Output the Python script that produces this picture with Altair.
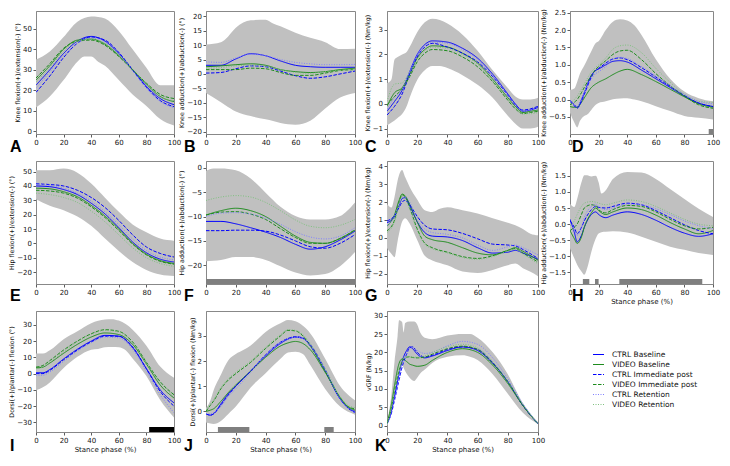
import altair as alt
import pandas as pd

SERIES = ["CTRL Baseline", "VIDEO Baseline", "CTRL Immediate post",
          "VIDEO Immediate post", "CTRL Retention", "VIDEO Retention"]
COLORS = ["#0000ff", "#1e8c1e", "#0000ff", "#1e8c1e", "#8080ff", "#80c080"]
DASHES = [[1, 0], [1, 0], [3.5, 1.5], [3.5, 1.5], [1, 1.5], [1, 1.5]]
X_TICKS = [0, 20, 40, 60, 80, 100]

# ---------------- A: knee flexion angle
A_bx = [0, 10, 20, 30, 35, 40, 45, 50, 60, 70, 80, 90, 100]
A_hi = [35, 39, 46, 53.5, 55.3, 56, 55.8, 55, 49, 40, 31, 22.5, 22.5]
A_lo = [11.6, 17, 25, 34, 36.5, 36.5, 34, 32, 25, 18, 12.4, 6, 2.8]
A_cx = [0, 10, 20, 30, 40, 50, 60, 70, 80, 90, 100]
A_cb = [22.5, 30, 38, 44, 46.3, 44, 38, 30, 22, 16, 13]
A_vb = [25, 32, 40, 44.5, 45, 42.5, 37, 30, 23, 17, 14.5]
A_ci = [19, 27, 36, 43, 46, 44.5, 38.5, 30, 21.5, 15, 12]
A_vi = [26, 33, 40.5, 44, 44.5, 42, 36.5, 30, 23.5, 18, 16]
A_cr = [21, 29, 37, 43, 45.5, 43.5, 37.5, 29.5, 21, 14.5, 11.5]
A_vr = [24, 31, 39, 44, 45, 43, 37.5, 30.5, 23, 17, 15]

# ---------------- B: knee adduction angle
B_bx = [0, 10, 13, 20, 30, 40, 45, 50, 60, 70, 80, 90, 100]
B_hi = [10.2, 11, 12, 16, 18.6, 18.8, 17.5, 16.5, 14.3, 12.5, 11, 8.6, 8.7]
B_lo = [-6.6, -9.8, -10.8, -13, -14.6, -15.7, -16.3, -17, -17.6, -16.2, -12, -8.2, -6.6]
B_cx = [0, 10, 20, 30, 40, 50, 60, 70, 80, 90, 100]
B_cb = [3, 3, 5.2, 7, 6.3, 4.5, 3, 2.5, 2.3, 2.3, 2.3]
B_vb = [2.5, 2.8, 3.2, 3.5, 3, 1.5, 0.8, 0.5, 0.8, 1.5, 2]
B_ci = [0.3, 0.5, 1.8, 2.8, 2.5, 1, -0.6, -1.5, -1, 0, 1]
B_vi = [1.5, 1.5, 1.5, 2, 1.8, 0.5, -0.5, -0.5, 0.3, 1.2, 1.5]
B_cr = [4.2, 4, 5.5, 6.8, 6.3, 5, 4, 3.5, 3.2, 3.2, 3.3]
B_vr = [2, 2.2, 2.8, 3, 2.5, 1.5, 0.5, 0.2, 0.8, 1.2, 1.5]

# ---------------- C: knee flexion moment
C_bx = [0, 3, 5, 7, 10, 13, 15, 20, 25, 30, 35, 40, 50, 60, 70, 80, 85, 90, 95, 100]
C_hi = [0.84, 1.0, 1.8, 1.9, 2.0, 2.1, 2.3, 2.9, 3.3, 3.45, 3.4, 3.25, 2.8, 2.15, 1.36, 0.64, 0.3, 0.18, 0.18, 0.25]
C_lo = [-0.87, -0.75, -0.67, -0.57, -0.41, -0.1, 0.25, 0.97, 1.36, 1.53, 1.53, 1.45, 1.16, 0.77, 0.25, -0.48, -0.8, -1.0, -1.0, -0.93]
C_cx = [0, 5, 10, 15, 20, 25, 30, 40, 50, 60, 70, 80, 85, 90, 95, 100]
C_cb = [-0.3, 0.1, 0.55, 1.3, 2.0, 2.4, 2.55, 2.5, 2.25, 1.85, 1.2, 0.4, 0.0, -0.3, -0.25, -0.15]
C_vb = [-0.1, 0.45, 0.65, 1.2, 1.85, 2.2, 2.35, 2.3, 2.05, 1.65, 1.0, 0.25, -0.1, -0.35, -0.3, -0.25]
C_ci = [-0.45, -0.1, 0.4, 1.2, 1.9, 2.3, 2.45, 2.3, 2.05, 1.7, 1.1, 0.35, -0.05, -0.25, -0.2, -0.1]
C_vi = [-0.05, 0.3, 0.6, 1.1, 1.7, 2.05, 2.2, 2.15, 1.9, 1.5, 0.9, 0.15, -0.2, -0.4, -0.35, -0.3]
C_cr = [-0.2, 0.25, 0.6, 1.3, 2.0, 2.35, 2.5, 2.45, 2.2, 1.8, 1.15, 0.35, -0.05, -0.3, -0.25, -0.2]
C_vr = [0.1, 0.8, 0.85, 1.3, 1.8, 2.15, 2.3, 2.25, 2.0, 1.6, 0.95, 0.2, -0.15, -0.4, -0.4, -0.35]

# ---------------- D: knee adduction moment
D_bx = [0, 3, 5, 7, 10, 12, 15, 18, 20, 25, 30, 35, 40, 45, 50, 60, 70, 80, 90, 100]
D_hi = [0.28, 0.32, 0.51, 0.75, 0.98, 1.15, 1.4, 1.63, 1.68, 2.0, 2.24, 2.31, 2.28, 2.14, 1.86, 1.16, 0.6, 0.23, 0.04, -0.05]
D_lo = [-0.38, -0.66, -0.8, -0.61, -0.47, -0.43, -0.29, -0.15, -0.1, -0.05, 0.01, 0.03, 0.04, 0.0, -0.05, -0.19, -0.33, -0.47, -0.52, -0.57]
D_cx = [0, 3, 5, 8, 10, 15, 18, 20, 25, 30, 35, 40, 50, 60, 70, 80, 90, 100]
D_cb = [-0.02, -0.15, -0.22, 0.0, 0.2, 0.7, 0.84, 0.88, 1.0, 1.1, 1.12, 1.08, 0.85, 0.6, 0.35, 0.1, -0.1, -0.2]
D_vb = [-0.2, -0.22, -0.22, -0.08, 0.05, 0.35, 0.45, 0.5, 0.6, 0.72, 0.82, 0.87, 0.72, 0.52, 0.3, 0.08, -0.12, -0.22]
D_ci = [-0.05, -0.18, -0.25, -0.05, 0.15, 0.65, 0.85, 0.9, 1.05, 1.17, 1.2, 1.15, 0.92, 0.65, 0.38, 0.12, -0.1, -0.2]
D_vi = [-0.15, -0.08, 0.0, 0.2, 0.35, 0.7, 0.87, 0.95, 1.12, 1.3, 1.4, 1.42, 1.15, 0.75, 0.4, 0.1, -0.15, -0.25]
D_cr = [-0.05, -0.15, -0.2, 0.0, 0.2, 0.6, 0.75, 0.8, 0.95, 1.15, 1.22, 1.18, 0.95, 0.68, 0.4, 0.15, -0.05, -0.12]
D_vr = [-0.1, 0.0, 0.1, 0.3, 0.45, 0.8, 0.93, 1.0, 1.2, 1.45, 1.55, 1.57, 1.35, 0.9, 0.5, 0.15, -0.05, -0.08]
D_s0 = [97]
D_s1 = [100]

# ---------------- E: hip flexion angle
E_bx = [0, 10, 20, 25, 30, 40, 50, 60, 70, 80, 90, 100]
E_hi = [50.9, 51, 52.2, 51.5, 49.3, 41.7, 31.8, 22, 13.2, 7.8, 3.4, 1.9]
E_lo = [30.8, 26.3, 23.1, 21, 18.7, 12.2, 3.4, -5.3, -13, -18.5, -21.7, -22.8]
E_cx = [0, 10, 20, 30, 40, 50, 60, 70, 80, 90, 100]
E_cb = [40, 39.5, 37.5, 34, 28, 20.5, 11, 1, -6.5, -11, -13]
E_vb = [38.5, 38, 36, 32.5, 26.5, 19, 10, 0, -7.5, -12, -14]
E_ci = [41.5, 41, 40, 37, 32, 25, 16, 6, -2.5, -7, -9.5]
E_vi = [37, 36.5, 35, 31.5, 25.5, 18, 9, -0.5, -8, -12.5, -14.5]
E_cr = [41, 40.5, 38.5, 35, 29.5, 22, 13, 3, -5, -9.5, -11.5]
E_vr = [35, 34, 32, 28.5, 22.5, 15, 6, -3, -10, -14, -16]

# ---------------- F: hip adduction angle
F_bx = [0, 5, 10, 20, 30, 40, 50, 60, 70, 80, 90, 100]
F_hi = [-0.64, -0.13, -0.13, -0.5, -2.2, -5.1, -8, -9.9, -10.6, -10.6, -9.9, -7.1]
F_lo = [-19.2, -19.1, -18.9, -18.3, -18.3, -18.9, -20.2, -21.5, -22.1, -21.8, -20.2, -17.3]
F_cx = [0, 10, 20, 30, 40, 50, 60, 70, 80, 90, 100]
F_cb = [-11, -11, -11.5, -12.3, -13.2, -14.3, -15.7, -16.7, -16.2, -14.8, -13]
F_vb = [-9.7, -8.8, -8.3, -8.8, -10, -12, -14, -15.3, -15.5, -14.5, -12.8]
F_ci = [-12.9, -12.9, -12.8, -12.8, -13, -13.8, -15, -16.2, -16.5, -15.5, -13.7]
F_vi = [-9.7, -9.1, -9.0, -9.5, -10.6, -12.5, -14.3, -15.5, -15.5, -14.5, -12.7]
F_cr = [-10, -9.3, -9.2, -9.5, -10.3, -11.6, -13.1, -14.2, -14.6, -14, -12.3]
F_vr = [-6.7, -6, -5.7, -6.0, -7.1, -8.8, -10.7, -12, -12.3, -11.8, -10.6]
F_s0 = [0]
F_s1 = [100]

# ---------------- G: hip flexion moment
G_bx = [0, 3, 5, 7, 10, 12, 15, 20, 25, 30, 35, 40, 50, 60, 70, 80, 85, 90, 95, 100]
G_hi = [1.9, 1.7, 2.3, 3.2, 3.8, 3.4, 2.85, 2.15, 1.55, 1.45, 1.63, 1.72, 1.55, 1.37, 1.1, 0.85, 0.7, 0.5, 0.23, 0.14]
G_lo = [-0.56, -0.9, -1.08, -0.2, 0.9, 1.1, 0.8, -0.12, -1.0, -1.26, -1.4, -1.53, -1.88, -1.96, -1.79, -1.53, -1.44, -1.7, -1.9, -2.14]
G_cx = [0, 5, 8, 10, 12, 15, 20, 25, 30, 40, 50, 60, 70, 80, 85, 90, 100]
G_cb = [0.85, 1.2, 1.8, 2.2, 2.25, 1.8, 0.9, 0.3, 0.1, 0.05, -0.15, -0.55, -0.85, -0.8, -0.7, -0.85, -1.2]
G_vb = [0.65, 1.3, 2.1, 2.45, 2.35, 1.9, 0.9, 0.1, -0.1, -0.25, -0.55, -0.85, -0.95, -0.7, -0.55, -0.75, -1.25]
G_ci = [0.95, 1.25, 1.7, 2.0, 2.1, 1.85, 1.2, 0.7, 0.5, 0.45, 0.25, -0.05, -0.35, -0.4, -0.45, -0.65, -1.15]
G_vi = [0.4, 1.0, 2.0, 2.4, 2.3, 1.7, 0.5, -0.3, -0.55, -0.8, -1.05, -1.15, -1.0, -0.7, -0.6, -0.85, -1.35]
G_cr = [0.7, 1.2, 1.9, 2.25, 2.3, 2.0, 1.0, 0.5, 0.3, 0.2, 0.0, -0.4, -0.7, -0.5, -0.4, -0.55, -0.95]
G_vr = [0.3, 0.9, 1.8, 2.3, 2.2, 1.6, 0.4, -0.35, -0.6, -0.85, -1.1, -1.2, -1.05, -0.75, -0.65, -0.9, -1.45]

# ---------------- H: hip adduction moment
H_bx = [0, 3, 5, 8, 10, 12, 15, 18, 20, 22, 25, 30, 40, 50, 60, 70, 80, 90, 100]
H_hi = [0.63, 0.53, 0.78, 1.3, 1.52, 1.52, 1.48, 1.5, 1.3, 0.95, 1.05, 1.4, 1.62, 1.6, 1.4, 1.09, 0.78, 0.48, 0.22]
H_lo = [-0.75, -1.06, -1.26, -1.47, -1.57, -1.37, -0.85, -0.45, -0.29, -0.25, -0.24, -0.22, -0.26, -0.39, -0.55, -0.7, -0.8, -0.9, -0.96]
H_cx = [0, 3, 5, 8, 10, 15, 18, 20, 25, 30, 40, 50, 60, 70, 80, 90, 100]
H_cb = [0.15, -0.25, -0.55, -0.35, -0.1, 0.3, 0.38, 0.3, 0.2, 0.28, 0.38, 0.3, 0.12, -0.1, -0.28, -0.38, -0.3]
H_vb = [-0.2, -0.45, -0.6, -0.4, -0.1, 0.35, 0.5, 0.42, 0.3, 0.38, 0.5, 0.45, 0.28, 0.05, -0.15, -0.3, -0.2]
H_ci = [0.1, -0.1, -0.3, -0.1, 0.1, 0.45, 0.55, 0.52, 0.5, 0.55, 0.65, 0.6, 0.42, 0.2, -0.02, -0.2, -0.3]
H_vi = [-0.2, -0.1, 0.0, 0.3, 0.5, 0.6, 0.58, 0.45, 0.35, 0.45, 0.58, 0.55, 0.38, 0.15, -0.05, -0.15, -0.1]
H_cr = [0.05, -0.2, -0.35, -0.1, 0.2, 0.55, 0.62, 0.55, 0.45, 0.5, 0.62, 0.6, 0.48, 0.3, 0.1, -0.05, -0.15]
H_vr = [-0.05, 0.1, 0.3, 0.55, 0.65, 0.7, 0.68, 0.65, 0.6, 0.65, 0.75, 0.7, 0.55, 0.35, 0.15, 0.0, -0.05]
H_s0 = [9, 17.5, 34.5]
H_s1 = [13.5, 20, 92.5]

# ---------------- I: ankle angle
I_bx = [0, 5, 10, 20, 30, 40, 45, 50, 55, 60, 65, 70, 80, 90, 100]
I_hi = [12.3, 12.3, 14.3, 21.1, 26, 31, 32.5, 33.3, 33.5, 32.6, 30.5, 27, 17.2, 4.4, -2.5]
I_lo = [-10.3, -8.4, -5.4, 3.4, 10.3, 14.7, 15.2, 16.2, 16.3, 16.2, 14.3, 9.3, -1.5, -16.2, -27]
I_cx = [0, 5, 10, 20, 30, 40, 50, 60, 70, 80, 90, 100]
I_cb = [0.5, 0.5, 2.5, 9, 15, 20, 23.5, 23, 16, 3, -10, -18]
I_vb = [3.5, 4, 6.5, 12.5, 18, 22.5, 25, 24, 18, 6, -7, -15]
I_ci = [0, 0, 2, 8.5, 14.5, 19.5, 23, 23, 16.5, 3, -11, -20]
I_vi = [4, 5, 8, 14.5, 20, 24.5, 27, 26, 19.5, 7, -5, -13]
I_cr = [-1, -1, 1, 7.5, 14, 19, 22.5, 22, 15, 1.5, -13, -24]
I_vr = [3, 4, 7, 13.5, 19.5, 24, 26.5, 25.5, 19, 6.5, -5.5, -14]
I_s0 = [82]
I_s1 = [100]

# ---------------- J: ankle moment
J_bx = [0, 3, 5, 10, 15, 20, 25, 30, 40, 50, 55, 60, 65, 70, 80, 90, 100]
J_hi = [0.13, 0.44, 0.82, 1.46, 2.03, 2.28, 2.44, 2.62, 3.16, 3.5, 3.63, 3.58, 3.4, 3.1, 2.09, 1.01, 0.44]
J_lo = [-0.44, -0.48, -0.5, -0.38, -0.1, 0.19, 0.57, 0.95, 1.52, 2.09, 2.34, 2.37, 2.28, 1.84, 0.89, 0.19, -0.13]
J_cx = [0, 3, 5, 10, 15, 20, 30, 40, 50, 55, 60, 65, 70, 80, 90, 95, 100]
J_cb = [-0.1, -0.15, -0.1, 0.3, 0.7, 1.0, 1.6, 2.2, 2.7, 2.87, 2.95, 2.9, 2.6, 1.6, 0.5, 0.15, 0.0]
J_vb = [0.0, 0.05, 0.1, 0.4, 0.75, 1.05, 1.6, 2.15, 2.6, 2.72, 2.78, 2.7, 2.45, 1.55, 0.55, 0.2, 0.05]
J_ci = [-0.1, -0.15, -0.1, 0.25, 0.65, 1.0, 1.6, 2.25, 2.75, 2.9, 2.97, 2.92, 2.65, 1.65, 0.5, 0.15, -0.05]
J_vi = [0.0, 0.25, 0.4, 0.9, 1.25, 1.5, 1.95, 2.5, 3.0, 3.22, 3.2, 3.0, 2.6, 1.6, 0.55, 0.2, 0.1]
J_cr = [-0.1, -0.1, -0.05, 0.2, 0.6, 0.9, 1.55, 2.25, 2.75, 2.88, 2.95, 2.9, 2.6, 1.65, 0.5, 0.15, -0.05]
J_vr = [0.05, 0.3, 0.45, 0.95, 1.3, 1.55, 2.0, 2.55, 3.05, 3.25, 3.22, 3.05, 2.7, 1.7, 0.6, 0.25, 0.15]
J_s0 = [8, 79.4]
J_s1 = [29.1, 85.7]

# ---------------- K: vertical GRF
K_bx = [0, 3, 5, 7, 8, 10, 11, 12, 15, 18, 20, 22, 25, 30, 40, 50, 55, 60, 70, 80, 90, 100]
K_hi = [0.9, 8.7, 17.5, 24.4, 28.8, 28.3, 25.4, 28, 28.4, 28.4, 27.6, 25.4, 24, 23.6, 24.6, 25, 25, 24, 20, 14, 6.1, 0.9]
K_lo = [0, 3.5, 7.9, 12.5, 14.9, 16.6, 15.8, 14.9, 13.1, 12.2, 13.1, 14.2, 15.3, 17.1, 18.8, 19.2, 18.8, 17.9, 14, 8.7, 3.5, 0.4]
K_cx = [0, 3, 5, 8, 10, 13, 15, 17, 20, 25, 30, 40, 50, 60, 70, 80, 90, 100]
K_cb = [0.5, 4, 8, 14, 17.5, 20.5, 21.5, 21, 19.5, 18.5, 19, 20.5, 21.5, 20.5, 17, 12, 5.5, 0.5]
K_vb = [0.5, 6, 11, 17, 18.2, 17.5, 16.8, 16.5, 16.2, 16.5, 17.8, 20, 21, 20, 16.5, 11.5, 5.5, 0.5]
K_ci = [0.5, 3.5, 7, 12.5, 16, 19.5, 21.3, 21.5, 20, 18.7, 19.2, 20.8, 21.5, 20.8, 17.2, 12, 5.5, 0.5]
K_vi = [0.5, 5, 9.5, 15, 17.5, 18.7, 18.8, 18.6, 18.5, 18.7, 19.5, 21, 21.7, 20.8, 17, 12, 5.5, 0.5]
K_cr = [0.5, 3.5, 7, 12.5, 16, 19.5, 21, 21.3, 20.5, 19.7, 20, 21.8, 23, 22.2, 18.5, 12.8, 6, 0.5]
K_vr = [0.5, 5, 9.5, 15.5, 18, 18.8, 18.7, 18.7, 18.7, 19, 20, 21.5, 22.2, 21.2, 17.5, 12.2, 5.8, 0.5]

PANELS = [
    dict(letter="A", title="Knee flexion(+)/extension(-) (°)", dom=[-1.3, 58.7], yt=[0, 10, 20, 30, 40, 50], fmt="d",
         bx=A_bx, hi=A_hi, lo=A_lo, cx=A_cx, cur=[A_cb, A_vb, A_ci, A_vi, A_cr, A_vr]),
    dict(letter="B", title="Knee adduction(+)/abduction(-) (°)", dom=[-20.8, 21.8], yt=list(range(-20, 21, 5)), fmt="d",
         bx=B_bx, hi=B_hi, lo=B_lo, cx=B_cx, cur=[B_cb, B_vb, B_ci, B_vi, B_cr, B_vr]),
    dict(letter="C", title="Knee flexion(+)/extension(-) (Nm/kg)", dom=[-1.22, 3.76], yt=[-1, 0, 1, 2, 3], fmt="d",
         bx=C_bx, hi=C_hi, lo=C_lo, cx=C_cx, cur=[C_cb, C_vb, C_ci, C_vi, C_cr, C_vr]),
    dict(letter="D", title="Knee adduction(+)/abduction(-) (Nm/kg)", dom=[-0.99, 2.55],
         yt=[-0.5, 0, 0.5, 1, 1.5, 2, 2.5], fmt=".1f",
         bx=D_bx, hi=D_hi, lo=D_lo, cx=D_cx, cur=[D_cb, D_vb, D_ci, D_vi, D_cr, D_vr],
         s0=D_s0, s1=D_s1, sc="#7f7f7f"),
    dict(letter="E", title="Hip flexion(+)/extension(-) (°)", dom=[-28.3, 57.4], yt=list(range(-20, 51, 10)), fmt="d",
         bx=E_bx, hi=E_hi, lo=E_lo, cx=E_cx, cur=[E_cb, E_vb, E_ci, E_vi, E_cr, E_vr]),
    dict(letter="F", title="Hip adduction(+)/abduction(-) (°)", dom=[-23.85, 1.4], yt=[-20, -15, -10, -5, 0], fmt="d",
         bx=F_bx, hi=F_hi, lo=F_lo, cx=F_cx, cur=[F_cb, F_vb, F_ci, F_vi, F_cr, F_vr],
         s0=F_s0, s1=F_s1, sc="#7f7f7f"),
    dict(letter="G", title="Hip flexion(+)/extension(-) (Nm/kg)", dom=[-2.58, 4.3], yt=[-2, -1, 0, 1, 2, 3, 4], fmt="d",
         bx=G_bx, hi=G_hi, lo=G_lo, cx=G_cx, cur=[G_cb, G_vb, G_ci, G_vi, G_cr, G_vr]),
    dict(letter="H", title="Hip adduction(+)/abduction(-) (Nm/kg)", dom=[-1.86, 1.96],
         yt=[-1.5, -1, -0.5, 0, 0.5, 1, 1.5], fmt=".1f", xt="Stance phase (%)",
         bx=H_bx, hi=H_hi, lo=H_lo, cx=H_cx, cur=[H_cb, H_vb, H_ci, H_vi, H_cr, H_vr],
         s0=H_s0, s1=H_s1, sc="#7f7f7f"),
    dict(letter="I", title="Dorsi(+)/plantar(-) flexion (°)", dom=[-35.9, 38.5], yt=list(range(-30, 31, 10)), fmt="d",
         xt="Stance phase (%)",
         bx=I_bx, hi=I_hi, lo=I_lo, cx=I_cx, cur=[I_cb, I_vb, I_ci, I_vi, I_cr, I_vr],
         s0=I_s0, s1=I_s1, sc="#000000"),
    dict(letter="J", title="Dorsi(+)/plantar(-) flexion (Nm/kg)", dom=[-0.82, 3.99], yt=[0, 1, 2, 3], fmt="d",
         xt="Stance phase (%)",
         bx=J_bx, hi=J_hi, lo=J_lo, cx=J_cx, cur=[J_cb, J_vb, J_ci, J_vi, J_cr, J_vr],
         s0=J_s0, s1=J_s1, sc="#7f7f7f"),
    dict(letter="K", title="vGRF (N/kg)", dom=[-1.75, 31.3], yt=list(range(0, 31, 5)), fmt="d",
         xt="Stance phase (%)", legend=True,
         bx=K_bx, hi=K_hi, lo=K_lo, cx=K_cx, cur=[K_cb, K_vb, K_ci, K_vi, K_cr, K_vr]),
]

COL_W = [138, 149, 151, 143]
ROW_H = [123, 123, 121]
LETTER_DX = {"A": -26, "B": -22, "C": -22, "D": 2, "E": -26, "F": -22, "G": -22, "H": 2,
             "I": -26, "J": -22, "K": -12}
ROW_DY = [18, 17, 19]


def make_panel(i, p):
    w = COL_W[i % 4]
    h = ROW_H[i // 4]
    band_df = pd.DataFrame({"x": p["bx"], "hi": p["hi"], "lo": p["lo"]})
    rows = []
    for s, vals in zip(SERIES, p["cur"]):
        for k, (xv, yv) in enumerate(zip(p["cx"], vals)):
            rows.append({"x": xv, "y": yv, "series": s, "ord": k})
    line_df = pd.DataFrame(rows)

    xs = alt.Scale(domain=[0, 100], nice=False, zero=False)
    ys = alt.Scale(domain=p["dom"], nice=False, zero=False)
    if "xt" in p:
        xax = alt.Axis(values=X_TICKS, format="d", title=p["xt"])
    else:
        xax = alt.Axis(values=X_TICKS, format="d", title=None)
    yax = alt.Axis(values=p["yt"], format=p["fmt"], title=p["title"], titleFontSize=6.3)

    band = alt.Chart(band_df).mark_area(color="#c0c0c0", interpolate="monotone", clip=True).encode(
        x=alt.X("x:Q", scale=xs, axis=xax),
        y=alt.Y("hi:Q", scale=ys, axis=yax),
        y2="lo:Q",
    )
    layers = [band]
    if "s0" in p:
        sig_df = pd.DataFrame({"s0": p["s0"], "s1": p["s1"]})
        sig = alt.Chart(sig_df).mark_rect(color=p["sc"]).encode(
            x=alt.X("s0:Q", scale=xs, axis=xax),
            x2="s1:Q",
            y=alt.value(h - 5),
            y2=alt.value(h),
        )
        layers.append(sig)

    if p.get("legend"):
        leg = alt.Legend(title=None, orient="none", legendX=205, legendY=37, symbolType="stroke",
                         symbolSize=121, symbolStrokeWidth=1.2, labelFontSize=7.5,
                         labelFont="DejaVu Sans", labelColor="#111111", rowPadding=0,
                         labelOffset=7, padding=0)
    else:
        leg = None
    lines = alt.Chart(line_df).mark_line(strokeWidth=1, interpolate="monotone", clip=True).encode(
        x=alt.X("x:Q", scale=xs, axis=xax),
        y=alt.Y("y:Q", scale=ys, axis=yax),
        color=alt.Color("series:N", scale=alt.Scale(domain=SERIES, range=COLORS), legend=leg),
        strokeDash=alt.StrokeDash("series:N", scale=alt.Scale(domain=SERIES, range=DASHES), legend=leg),
        order="ord:Q",
    )
    layers.append(lines)

    letter = alt.Chart(pd.DataFrame({"t": [p["letter"]]})).mark_text(
        align="left", baseline="alphabetic", fontSize=16, fontWeight="bold",
        font="Liberation Sans", color="#000000"
    ).encode(text="t:N", x=alt.value(LETTER_DX[p["letter"]]), y=alt.value(h + ROW_DY[i // 4]))
    layers.append(letter)

    return alt.layer(*layers).properties(width=w, height=h)


cells = [make_panel(i, p) for i, p in enumerate(PANELS)]

chart = alt.concat(*cells, columns=4, spacing={"row": 27, "column": 32}, bounds="flush").resolve_scale(
    color="independent", strokeDash="independent"
).properties(padding=0).configure_view(
    stroke="#888888", strokeWidth=1
).configure_axis(
    labelFont="DejaVu Sans", labelFontSize=7, labelColor="#111111",
    titleFont="DejaVu Sans", titleFontSize=7, titleFontWeight="normal", titleColor="#111111",
    tickSize=3, tickColor="#333333", tickWidth=0.8,
    domain=True, domainColor="#888888", domainWidth=1, grid=False,
    labelPadding=1.5, titlePadding=2, labelFlush=False, zindex=1,
)

chart.save("out.html", embed_options={"renderer": "svg", "actions": False})
